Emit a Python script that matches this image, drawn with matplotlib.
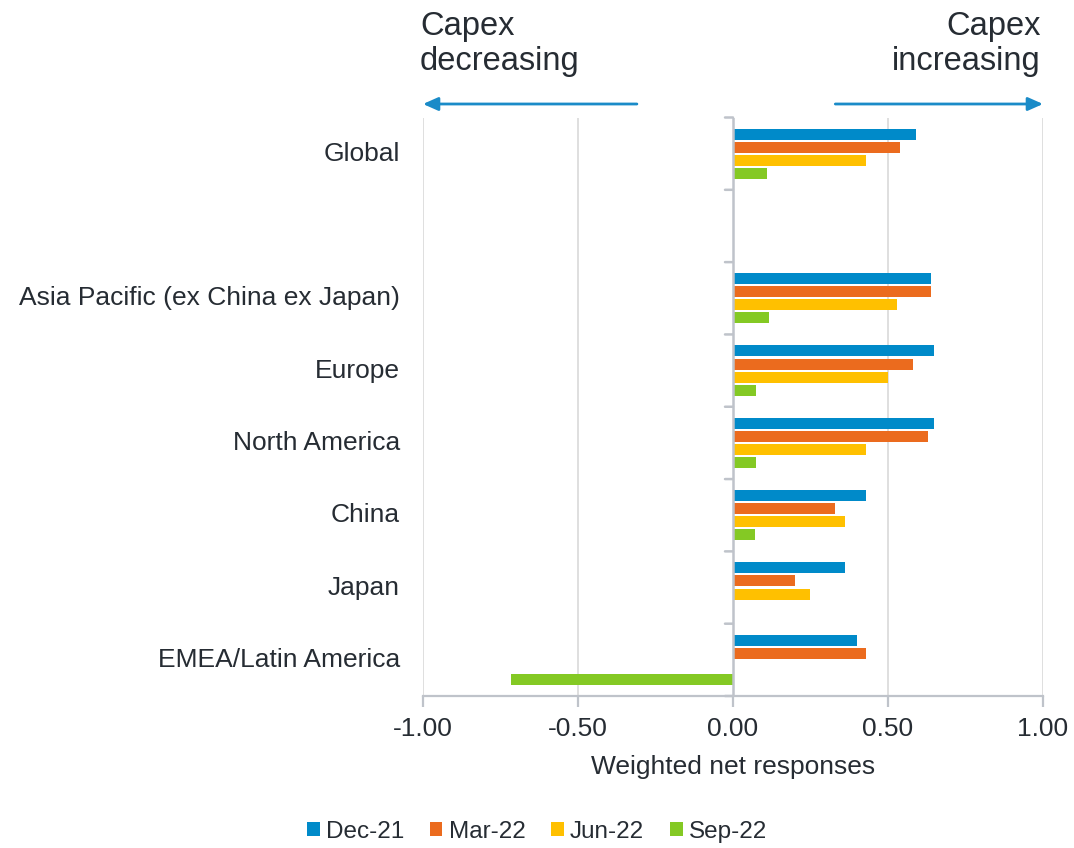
import matplotlib
matplotlib.use("Agg")
import matplotlib.pyplot as plt
from matplotlib.patches import Patch
import numpy as np

# Regions top to bottom; empty string is the blank slot under Global
regions = ["Global", "", "Asia Pacific (ex China ex Japan)", "Europe",
           "North America", "China", "Japan", "EMEA/Latin America"]
periods = ["Dec-21", "Mar-22", "Jun-22", "Sep-22"]
dec21 = [0.59, np.nan, 0.64, 0.65, 0.65, 0.43, 0.36, 0.40]
mar22 = [0.54, np.nan, 0.64, 0.58, 0.63, 0.33, 0.20, 0.43]
jun22 = [0.43, np.nan, 0.53, 0.50, 0.43, 0.36, 0.25, np.nan]
sep22 = [0.11, np.nan, 0.115, 0.075, 0.075, 0.07, np.nan, -0.715]
xticks = [-1.0, -0.5, 0.0, 0.5, 1.0]

colors = ["#008AC9", "#EB6B1E", "#FFC000", "#84C924"]
text_color = "#262C33"
axis_grey = "#BFC3CA"
grid_grey = "#D9D9D9"

plt.rcParams["font.family"] = ["Liberation Sans", "DejaVu Sans"]

fig = plt.figure(figsize=(10.74, 8.48), dpi=100)
W, H = 1074, 848
left, right, top, bottom = 423, 1043, 117.5, 696
ax = fig.add_axes([left / W, 1 - bottom / H, (right - left) / W, (bottom - top) / H])

y = np.arange(len(regions))
step = 0.181
bar_h = 0.152
series = [dec21, mar22, jun22, sep22]
for i, (vals, col, lab) in enumerate(zip(series, colors, periods)):
    offs = (i - 1.5) * step
    ax.barh(y + offs, vals, height=bar_h, color=col, label=lab, zorder=3)

ax.set_xlim(-1, 1)
ax.set_ylim(len(regions) - 0.5, -0.5)

# vertical gridlines
for xv in xticks:
    if xv != 0:
        ax.axvline(xv, color=grid_grey, lw=1.2, zorder=1)

for s in ["top", "right", "left"]:
    ax.spines[s].set_visible(False)
ax.spines["bottom"].set_color(axis_grey)
ax.spines["bottom"].set_linewidth(1.6)

# zero axis with category tick marks
ax.axvline(0, color=axis_grey, lw=1.8, zorder=4)
tick_ys = np.arange(-0.5, len(regions), 1.0)
for ty in tick_ys:
    ax.annotate("", xy=(0, ty), xycoords="data",
                xytext=(-8, 0), textcoords="offset pixels",
                arrowprops=dict(arrowstyle="-", color=axis_grey, lw=1.8,
                                shrinkA=0, shrinkB=0))

ax.set_yticks([])
ax.set_xticks(xticks)
ax.set_xticklabels([f"{v:.2f}" for v in xticks])
ax.tick_params(axis="x", colors=axis_grey, width=1.6, length=8,
               labelcolor=text_color, labelsize=19, pad=7)
ax.set_xlabel("Weighted net responses", fontsize=19, color=text_color, labelpad=10)

# category labels to the left of the axes
ytrans = ax.get_yaxis_transform()
for yi, name in zip(y, regions):
    if name:
        ax.text(-23 / (right - left), yi, name, transform=ytrans,
                ha="right", va="center", fontsize=19, color=text_color)

# direction arrows and captions
xtrans = ax.get_xaxis_transform()
arrow_y = 1 + 13.5 / (bottom - top)
arrow_col = "#1A8BC8"
for x_from, x_to in [(-0.31, -1.0), (0.33, 1.0)]:
    ax.annotate("", xy=(x_to, arrow_y), xycoords=xtrans,
                xytext=(x_from, arrow_y), textcoords=xtrans,
                arrowprops=dict(arrowstyle="-|>,head_length=0.9,head_width=0.4",
                                color=arrow_col, lw=2, shrinkA=0, shrinkB=0),
                annotation_clip=False)
fig.text(420 / W, 1 - 11 / H, "Capex\ndecreasing", ha="left", va="top",
         fontsize=23.5, color=text_color, linespacing=1.17)
fig.text(1041 / W, 1 - 11 / H, "Capex\nincreasing", ha="right", va="top",
         fontsize=23.5, color=text_color, linespacing=1.17, multialignment="right")

handles = [Patch(facecolor=c, label=l) for c, l in zip(colors, periods)]
fig.legend(handles=handles, loc="center", bbox_to_anchor=(0.5, 1 - 832 / H),
           ncol=4, frameon=False, fontsize=17.5, handlelength=0.52,
           handleheight=0.52, handletextpad=0.25, columnspacing=1.07,
           labelcolor=text_color)

fig.savefig("out.png", dpi=100)
